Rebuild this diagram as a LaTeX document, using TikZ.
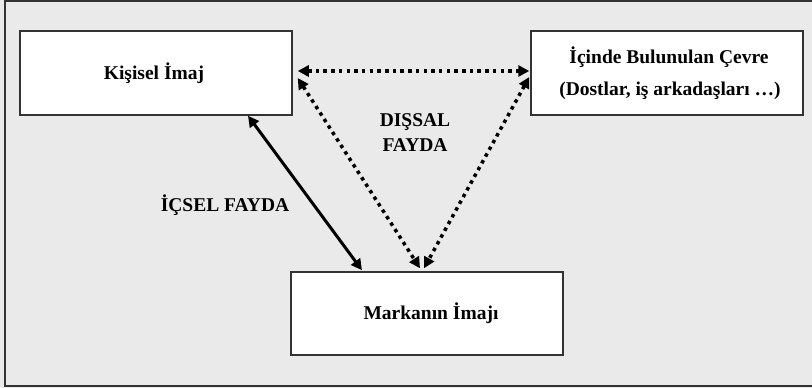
\documentclass[tikz,border=0pt]{standalone}
\usepackage{fontspec}
\setmainfont{Liberation Serif}
\usetikzlibrary{arrows.meta}
\definecolor{panelgray}{HTML}{EAEAEA}
\definecolor{edgegray}{HTML}{333333}
\tikzset{
  box/.style={draw=edgegray, line width=1.5pt, fill=white, inner sep=0pt},
  lbl/.style={font=\fontsize{19.5}{25}\selectfont\bfseries, align=center, inner sep=0pt},
  bothtips/.style={{Triangle[length=11pt,width=11pt]}-{Triangle[length=11pt,width=11pt]}},
  dotline/.style={bothtips, line width=3.5pt, dash pattern=on 3.5pt off 4.2pt},
  solidline/.style={bothtips, line width=3pt}
}
\begin{document}
\begin{tikzpicture}[x=1pt, y=-1pt]
  \useasboundingbox (0,0) rectangle (812,388);
  % panel with its frame (right side runs past the edge)
  \fill[panelgray] (0,0) rectangle (812,388);
  \draw[edgegray, line width=2pt] (830,1) -- (4.5,1) -- (4.5,385.5) -- (830,385.5);

  % boxes
  \node[box, minimum width=272pt, minimum height=84pt] (kisi) at (156,73) {};
  \node[lbl] at (154,73) {Kişisel İmaj};
  \node[box, minimum width=272pt, minimum height=84pt] (cevre) at (667,73) {};
  \node[lbl] at (669,57) {İçinde Bulunulan Çevre};
  \node[lbl] at (670,91) {(Dostlar, iş arkadaşları …)};
  \node[box, minimum width=272pt, minimum height=83pt] (marka) at (427,313.5) {};
  \node[lbl] at (431,313) {Markanın İmajı};

  % connector end points
  \coordinate (kR) at ([xshift=5pt, yshift=2pt]kisi.east);
  \coordinate (kRlow) at ([xshift=5pt, yshift=-5pt]kisi.east);
  \coordinate (cL) at ([xshift=-1pt, yshift=2pt]cevre.west);
  \coordinate (cLlow) at ([xshift=-1pt, yshift=-4pt]cevre.west);
  \coordinate (mTa) at ([xshift=-7pt, yshift=3pt]marka.north);
  \coordinate (mTb) at ([xshift=-3pt, yshift=3pt]marka.north);
  \coordinate (kB) at ([xshift=92pt]kisi.south);
  \coordinate (mTL) at ([xshift=-65pt, yshift=1pt]marka.north);

  % connectors
  \draw[dotline] (kR) -- (cL);
  \draw[dotline] (kRlow) -- (mTa);
  \draw[dotline] (cLlow) -- (mTb);
  \draw[solidline] (kB) -- (mTL);

  % labels
  \node[lbl] (dis) at (415,133) {DIŞSAL\\FAYDA};
  \node[lbl] (ic) at (225,205) {İÇSEL FAYDA};
\end{tikzpicture}
\end{document}
